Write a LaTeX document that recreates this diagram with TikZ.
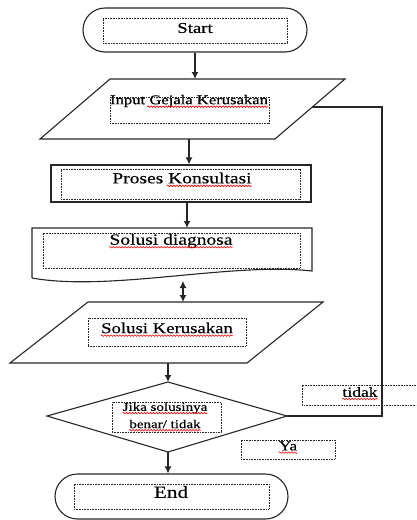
\documentclass[tikz,border=0pt]{standalone}
\usepackage{fontspec}
\setmainfont[FakeStretch=1.25,FakeBold=0.4]{Liberation Serif}
\usetikzlibrary{shapes.misc,arrows.meta,decorations.pathmorphing}

\definecolor{linegray}{HTML}{262626}

\tikzset{
  flow/.style={draw=linegray, line width=1.1pt},
  term/.style={flow, rounded rectangle, inner sep=0pt},
  procbox/.style={flow, rectangle, inner sep=0pt},
  dotbox/.style={draw=linegray, line width=0.8pt, dash pattern=on 0.8pt off 0.8pt, inner sep=0pt},
  txt/.style={inner sep=0pt, text=black, font=\fontsize{#1pt}{#1pt}\selectfont},
  typo/.style={red, line width=0.6pt, decorate, decoration={snake, amplitude=0.8pt, segment length=3pt}},
  arr/.style={draw=linegray, line width=1.3pt, -{Latex[length=7pt,width=7pt]}},
  arrboth/.style={draw=linegray, line width=1.3pt, {Latex[length=7pt,width=7pt]}-{Latex[length=7pt,width=7pt]}}
}

\begin{document}
\begin{tikzpicture}[x=1pt,y=-1pt]
\useasboundingbox (0,0) rectangle (416,520);

% Start
\node[term, minimum width=224pt, minimum height=44pt] (start) at (195,30) {};
\node[dotbox, minimum width=184pt, minimum height=25pt] (startbox) at (195,30.5) {};
\node[txt=15] (tstart) at (195,28) {Start};

% Input gejala
\coordinate (in1) at (110,79);
\coordinate (in2) at (345,79);
\coordinate (in3) at (275,139);
\coordinate (in4) at (40,139);
\draw[flow] (in1) -- (in2) -- (in3) -- (in4) -- cycle;
\coordinate (inbot) at (189,139);
\coordinate (inright) at (312.3,107);
\node[dotbox, minimum width=159pt, minimum height=26pt] (inbox) at (189.5,110) {};
\node[txt=13.3] (tinput) at (189,101) {Input Gejala Kerusakan};
\draw[typo] ([xshift=-121pt,yshift=-2.5pt]tinput.base east) -- ([yshift=-2.5pt]tinput.base east);
\draw[arr] (start.south) -- (start.south |- in1);

% Proses konsultasi
\node[procbox, minimum width=260pt, minimum height=37pt] (proses) at (181,183.5) {};
\node[dotbox, minimum width=239pt, minimum height=30pt] (prosesbox) at (180.5,184) {};
\node[txt=15.6] (tproses) at (182,178) {Proses Konsultasi};
\draw[typo] ([xshift=-85pt,yshift=-2.5pt]tproses.base east) -- ([yshift=-2.5pt]tproses.base east);
\draw[arr] (inbot) -- (inbot |- proses.north);

% Solusi diagnosa (document)
\coordinate (d1) at (32,228);
\coordinate (d2) at (312,228);
\coordinate (d3) at (312,271);
\coordinate (d4) at (32,278);
\draw[flow] (d4) -- (d1) -- (d2) -- (d3) .. controls (230,262) and (110,292) .. (d4);
\coordinate (dtop) at (187,228);
\coordinate (dbot) at (183,281);
\node[dotbox, minimum width=257pt, minimum height=35pt] (diagbox) at (171.5,250.5) {};
\node[txt=15.6] (tdiag) at (171,241) {Solusi diagnosa};
\draw[typo] ([yshift=-2.5pt]tdiag.base west) -- ([yshift=-2.5pt]tdiag.base east);
\draw[arr] (dtop |- proses.south) -- (dtop);

% Solusi kerusakan
\coordinate (sk1) at (88,302);
\coordinate (sk2) at (323,302);
\coordinate (sk3) at (247,363);
\coordinate (sk4) at (10,363);
\draw[flow] (sk1) -- (sk2) -- (sk3) -- (sk4) -- cycle;
\coordinate (sktop) at (183,302);
\coordinate (skbot) at (168,363);
\node[dotbox, minimum width=158pt, minimum height=28pt] (skbox) at (167,332) {};
\node[txt=15] (tsk) at (167,328) {Solusi Kerusakan};
\draw[typo] ([yshift=-2.5pt]tsk.base west) -- ([yshift=-2.5pt]tsk.base east);
\draw[arrboth] (dbot) -- (sktop);

% Keputusan
\coordinate (jtop) at (168,382);
\coordinate (jright) at (287,416);
\coordinate (jbot) at (168,452);
\coordinate (jleft) at (47,416);
\draw[flow] (jtop) -- (jright) -- (jbot) -- (jleft) -- cycle;
\node[dotbox, minimum width=109pt, minimum height=30pt] (jbox) at (166.5,417) {};
\node[txt=12] (tjika) at (165,408) {Jika solusinya};
\node[txt=12] (tbenar) at (165,424) {benar/ tidak};
\draw[typo] ([yshift=-2.2pt]tjika.base west) -- ([yshift=-2.2pt]tjika.base east);
\draw[typo] ([yshift=-2.2pt]tbenar.base west) -- ([yshift=-2.2pt]tbenar.base east);
\draw[arr] (skbot) -- (jtop);

% End
\node[term, minimum width=233pt, minimum height=45pt] (stop) at (171.5,496.5) {};
\node[dotbox, minimum width=195pt, minimum height=25pt] (stopbox) at (171.5,496.5) {};
\node[txt=17] (tstop) at (171,492) {End};
\draw[arr] (jbot) -- (jbot |- stop.north);

% kembali ke input
\draw[flow] (jright) -- ++(95,0) |- (inright);
\draw[dotbox] (416,385) -- (302,385) -- (302,405) -- (416,405);
\node[txt=14] (ttidak) at (360,392) {tidak};
\draw[typo] ([yshift=-2.2pt]ttidak.base west) -- ([yshift=-2.2pt]ttidak.base east);
\node[dotbox, minimum width=94pt, minimum height=19pt] (yabox) at (288,449.5) {};
\node[txt=13.7] (tya) at (288,446) {Ya};
\draw[typo] ([yshift=-2.2pt]tya.base west) -- ([yshift=-2.2pt]tya.base east);
\end{tikzpicture}
\end{document}
